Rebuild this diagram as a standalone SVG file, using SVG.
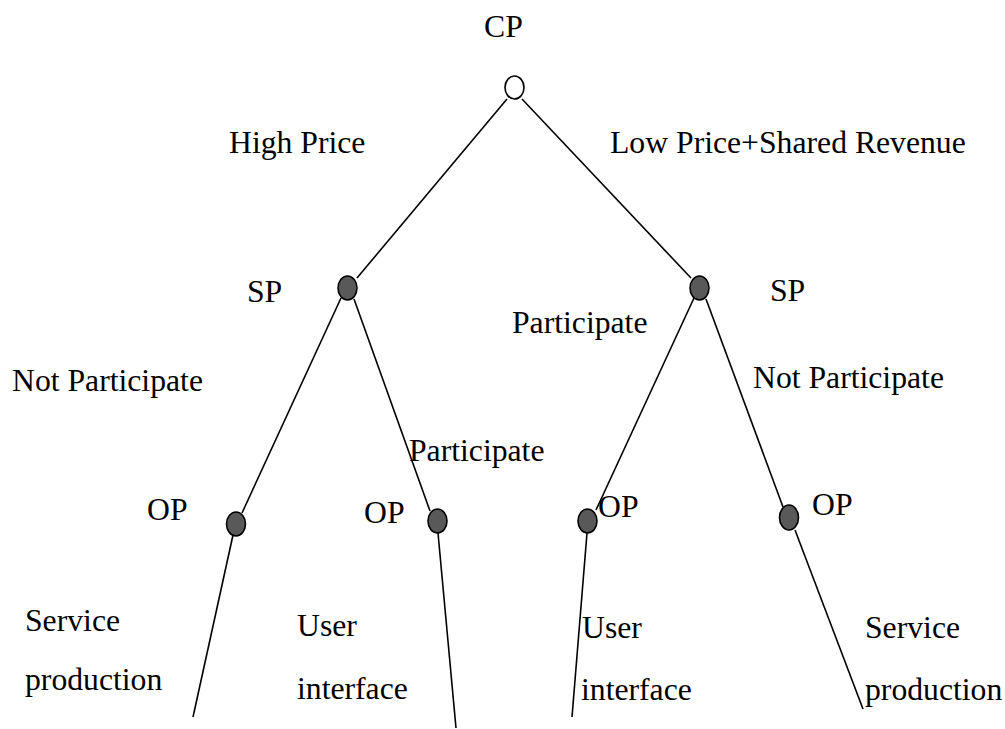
<svg xmlns="http://www.w3.org/2000/svg" width="1005" height="729" viewBox="0 0 1005 729">
<style>
text{font-family:"Liberation Serif","Times New Roman",serif;font-size:31.7px;fill:#000}
.e{stroke:#000;stroke-width:1.6;fill:none}
.n{fill:#595959;stroke:#000;stroke-width:1.6}
.r{fill:#fff;stroke:#000;stroke-width:1.6}
</style>
<rect width="1005" height="729" fill="#fff"/>
<g id="connectors">
<line class="e" x1="507" y1="99" x2="357" y2="278"/>
<line class="e" x1="522" y1="99" x2="691" y2="278"/>
<line class="e" x1="341" y1="298" x2="242" y2="513"/>
<line class="e" x1="354" y1="299" x2="430" y2="511"/>
<line class="e" x1="694" y1="298" x2="596" y2="510"/>
<line class="e" x1="706" y1="299" x2="783" y2="507"/>
<line class="e" x1="233" y1="535" x2="193" y2="717"/>
<line class="e" x1="438" y1="533" x2="456" y2="728"/>
<line class="e" x1="587" y1="533" x2="572" y2="717"/>
<line class="e" x1="795" y1="530" x2="863" y2="709"/>
</g>
<g id="cp"><ellipse class="r" cx="514.5" cy="87.5" rx="9.5" ry="11.5"/><text x="484" y="37">CP</text></g>
<g id="sp-left"><ellipse class="n" cx="347.5" cy="288" rx="9.5" ry="12"/><text x="247" y="302">SP</text></g>
<g id="sp-right"><ellipse class="n" cx="699.5" cy="288" rx="9.5" ry="12"/><text x="770" y="301">SP</text></g>
<g id="op1"><ellipse class="n" cx="236" cy="524" rx="9.5" ry="12"/><text x="147" y="520">OP</text></g>
<g id="op2"><ellipse class="n" cx="437.5" cy="521" rx="9.5" ry="12"/><text x="364" y="523">OP</text></g>
<g id="op3"><ellipse class="n" cx="587.5" cy="521" rx="9.5" ry="12"/><text x="598" y="517">OP</text></g>
<g id="op4"><ellipse class="n" cx="789" cy="517.5" rx="9.5" ry="12.5"/><text x="812" y="515">OP</text></g>
<g id="labels">
<text x="229" y="153">High Price</text>
<text x="610" y="153">Low Price+Shared Revenue</text>
<text x="512" y="333">Participate</text>
<text x="12" y="391">Not Participate</text>
<text x="753" y="388">Not Participate</text>
<text x="409" y="461">Participate</text>
<text x="25" y="631">Service</text>
<text x="25" y="690">production</text>
<text x="297" y="636">User</text>
<text x="297" y="699">interface</text>
<text x="582" y="638">User</text>
<text x="581" y="700">interface</text>
<text x="865" y="638">Service</text>
<text x="865" y="700">production</text>
</g>
</svg>
